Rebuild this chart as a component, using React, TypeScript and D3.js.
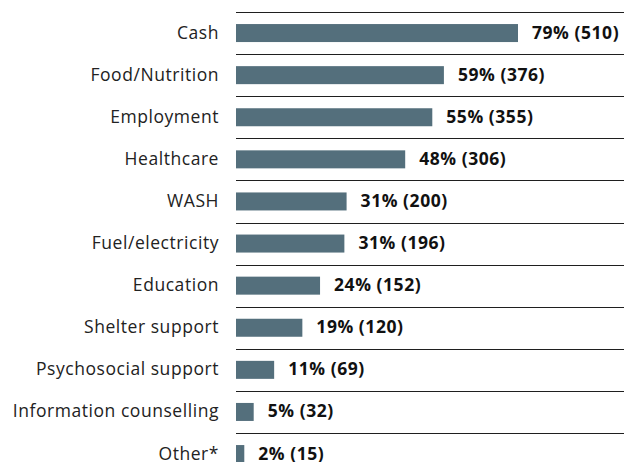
import React from "react";
import * as d3 from "d3";

const categories = [
  "Cash",
  "Food/Nutrition",
  "Employment",
  "Healthcare",
  "WASH",
  "Fuel/electricity",
  "Education",
  "Shelter support",
  "Psychosocial support",
  "Information counselling",
  "Other*",
];
const counts = [510, 376, 355, 306, 200, 196, 152, 120, 69, 32, 15];
const percents = [79, 59, 55, 48, 31, 31, 24, 19, 11, 5, 2];

const W = 624;
const H = 462;
const ROW = 42.1;
const TOP = 12;

export default function App() {
  const y = d3
    .scaleBand<string>()
    .domain(categories)
    .range([TOP, TOP + ROW * categories.length])
    .paddingInner(0)
    .paddingOuter(0);
  const x = d3.scaleLinear().domain([0, 510]).range([236, 518]);
  const barH = 18;
  const font = "'Open Sans', 'Noto Sans', sans-serif";

  return (
    <svg
      width={W}
      height={H}
      style={{ position: "absolute", left: 0, top: 0, background: "#fff" }}
    >
      {categories.map((c, i) => {
        const y0 = y(c)!;
        const cy = y0 + y.bandwidth() / 2;
        return (
          <g key={c}>
            <line
              x1={236}
              x2={W}
              y1={Math.round(y0) + 0.5}
              y2={Math.round(y0) + 0.5}
              stroke="#1f1f1f"
              strokeWidth={1}
            />
            <rect
              x={x(0)}
              y={cy - barH / 2}
              width={x(counts[i]) - x(0)}
              height={barH}
              fill="#546f7c"
            />
            <text
              x={219}
              y={cy + 5.5}
              textAnchor="end"
              fontFamily={font}
              fontSize={17.5}
              letterSpacing={0.55}
              fill="#222"
            >
              {c}
            </text>
            <text
              x={x(counts[i]) + 14}
              y={cy + 5.5}
              fontFamily={font}
              fontSize={17.5}
              letterSpacing={0.55}
              fontWeight={700}
              fill="#111"
            >
              {`${percents[i]}% (${counts[i]})`}
            </text>
          </g>
        );
      })}
    </svg>
  );
}
